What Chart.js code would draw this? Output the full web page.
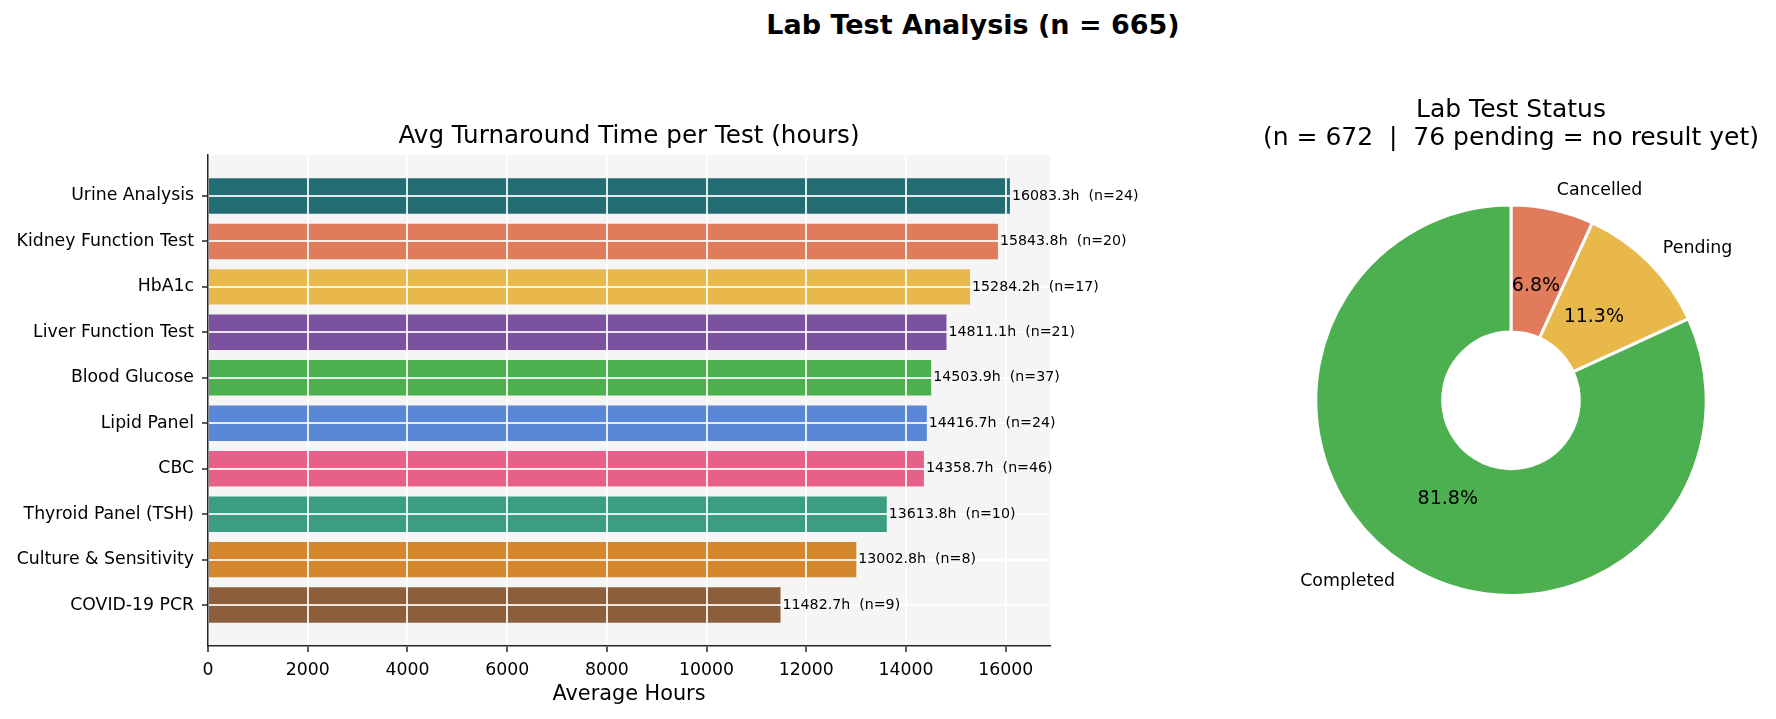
<!DOCTYPE html>
<html>
<head>
<meta charset="utf-8">
<script src="https://cdn.jsdelivr.net/npm/chart.js@4.4.1/dist/chart.umd.min.js"></script>
<style>
  html, body { margin: 0; padding: 0; background: #fff; }
  body { width: 1776px; height: 719px; position: relative; overflow: hidden; font-family: "DejaVu Sans", sans-serif; }
  #suptitle { position: absolute; left: 973px; top: 9px; transform: translateX(-50%); font-weight: bold; font-size: 27px; line-height: 32px; white-space: nowrap; color: #000; }
  #barChart { position: absolute; left: 0; top: 0; }
  #pieChart { position: absolute; left: 1255px; top: 0; }
</style>
</head>
<body>
<div id="suptitle">Lab Test Analysis (n = 665)</div>
<canvas id="barChart" width="1256" height="719"></canvas>
<canvas id="pieChart" width="512" height="719"></canvas>
<script>
// ===== Data =====
const tests = ['Urine Analysis', 'Kidney Function Test', 'HbA1c', 'Liver Function Test', 'Blood Glucose',
               'Lipid Panel', 'CBC', 'Thyroid Panel (TSH)', 'Culture & Sensitivity', 'COVID-19 PCR'];
const avgHours = [16083.3, 15843.8, 15284.2, 14811.1, 14503.9, 14416.7, 14358.7, 13613.8, 13002.8, 11482.7];
const testCounts = [24, 20, 17, 21, 37, 24, 46, 10, 8, 9];
const barColors = ['#226c74', '#e07b5b', '#e9b84a', '#7b52a0', '#4caf50',
                   '#5b87d8', '#e6608a', '#3b9e82', '#d4872c', '#8c5e3c'];
const xTicks = [0, 2000, 4000, 6000, 8000, 10000, 12000, 14000, 16000];

const statusLabels = ['Cancelled', 'Pending', 'Completed'];
const statusCounts = [46, 76, 550];
const statusColors = ['#e07b5b', '#e9b84a', '#4caf50'];

const FONT = '"DejaVu Sans", sans-serif';
const INK = '#262626';

// ===== Plugins =====
const axesBg = {
    id: 'axesBg',
    beforeDraw(chart) {
        const { ctx, chartArea: a } = chart;
        ctx.save();
        ctx.fillStyle = '#f5f5f5';
        ctx.fillRect(a.left, a.top, a.right - a.left, a.bottom - a.top);
        ctx.restore();
    }
};

const barValueLabels = {
    id: 'barValueLabels',
    afterDraw(chart) {
        const ctx = chart.ctx;
        const meta = chart.getDatasetMeta(0);
        ctx.save();
        ctx.font = '14.2px ' + FONT;
        ctx.fillStyle = '#000';
        ctx.textAlign = 'left';
        ctx.textBaseline = 'middle';
        meta.data.forEach((bar, i) => {
            ctx.fillText(avgHours[i].toFixed(1) + 'h  (n=' + testCounts[i] + ')', bar.x + 2, bar.y);
        });
        ctx.restore();
    }
};

const pieLabels = {
    id: 'pieLabels',
    afterDraw(chart) {
        const ctx = chart.ctx;
        const meta = chart.getDatasetMeta(0);
        const total = statusCounts.reduce((a, b) => a + b, 0);
        ctx.save();
        ctx.fillStyle = '#000';
        ctx.textBaseline = 'middle';
        meta.data.forEach((arc, i) => {
            const p = arc.getProps(['x', 'y', 'startAngle', 'endAngle', 'outerRadius'], true);
            const mid = (p.startAngle + p.endAngle) / 2;
            const cx = Math.cos(mid), cy = Math.sin(mid);
            // category label outside
            ctx.font = '17.4px ' + FONT;
            ctx.textAlign = cx >= 0 ? 'left' : 'right';
            ctx.fillText(statusLabels[i], p.x + cx * p.outerRadius * 1.1, p.y + cy * p.outerRadius * 1.1);
            // percentage inside
            ctx.font = '19px ' + FONT;
            ctx.textAlign = 'center';
            const pct = (statusCounts[i] / total * 100).toFixed(1) + '%';
            ctx.fillText(pct, p.x + cx * p.outerRadius * 0.6, p.y + cy * p.outerRadius * 0.6);
        });
        ctx.restore();
    }
};

// ===== Bar chart =====
new Chart(document.getElementById('barChart'), {
    type: 'bar',
    data: {
        datasets: [{
            data: tests.map((t, i) => ({ x: avgHours[i], y: i })),
            backgroundColor: barColors,
            borderWidth: 0,
            barPercentage: 0.78,
            categoryPercentage: 1
        }]
    },
    options: {
        indexAxis: 'y',
        responsive: false,
        animation: false,
        events: [],
        layout: { padding: { left: 0, right: 206, top: 0, bottom: 0 } },
        plugins: {
            legend: { display: false },
            tooltip: { enabled: false },
            title: {
                display: true,
                text: 'Avg Turnaround Time per Test (hours)',
                fullSize: false,
                color: '#000',
                font: { family: FONT, size: 24.6, weight: 'normal', lineHeight: 1.2 },
                padding: { top: 122, bottom: 3.5 }
            }
        },
        scales: {
            x: {
                type: 'linear',
                min: 0,
                max: Math.max(...avgHours) * 1.05,
                afterBuildTicks: s => { s.ticks = xTicks.map(v => ({ value: v })); },
                afterFit: s => { s.height = 73; },
                grid: {
                    z: 1,
                    color: c => (c.tick && c.tick.value === 0) ? 'rgba(0,0,0,0)' : 'rgba(255,255,255,0.85)',
                    lineWidth: 2,
                    tickColor: INK,
                    tickLength: 6,
                    tickWidth: 1.5
                },
                border: { color: INK, width: 1.5, z: 2 },
                ticks: {
                    color: '#000',
                    font: { family: FONT, size: 17.3 },
                    padding: 8,
                    maxRotation: 0,
                    autoSkip: false,
                    callback: v => String(v)
                },
                title: {
                    display: true,
                    text: 'Average Hours',
                    color: '#000',
                    font: { family: FONT, size: 20.8, lineHeight: 1.2 },
                    padding: { top: 0, bottom: 11.5 }
                }
            },
            y: {
                type: 'linear',
                reverse: true,
                offset: false,
                min: -0.9,
                max: 9.9,
                afterBuildTicks: s => { s.ticks = tests.map((t, i) => ({ value: i })); },
                afterFit: s => { s.width = 208; },
                grid: {
                    z: 1,
                    offset: false,
                    color: 'rgba(255,255,255,0.85)',
                    lineWidth: 2,
                    tickColor: INK,
                    tickLength: 6,
                    tickWidth: 1.5
                },
                border: { color: INK, width: 1.5, z: 2 },
                ticks: {
                    color: '#000',
                    font: { family: FONT, size: 17.3 },
                    padding: 8,
                    autoSkip: false,
                    callback: v => tests[v]
                }
            }
        }
    },
    plugins: [axesBg, barValueLabels]
});

// ===== Doughnut chart =====
new Chart(document.getElementById('pieChart'), {
    type: 'doughnut',
    data: {
        labels: statusLabels,
        datasets: [{
            data: statusCounts,
            backgroundColor: statusColors,
            borderColor: '#fff',
            borderWidth: 3
        }]
    },
    options: {
        responsive: false,
        animation: false,
        events: [],
        cutout: '35%',
        rotation: 0,
        layout: { padding: { top: 0, bottom: 122, left: 0, right: 0 } },
        plugins: {
            legend: { display: false },
            tooltip: { enabled: false },
            title: {
                display: true,
                text: ['Lab Test Status', '(n = 672  |  76 pending = no result yet)'],
                color: '#000',
                font: { family: FONT, size: 25, weight: 'normal', lineHeight: 1.12 },
                padding: { top: 96, bottom: 51.6 }
            }
        }
    },
    plugins: [pieLabels]
});
</script>
</body>
</html>
